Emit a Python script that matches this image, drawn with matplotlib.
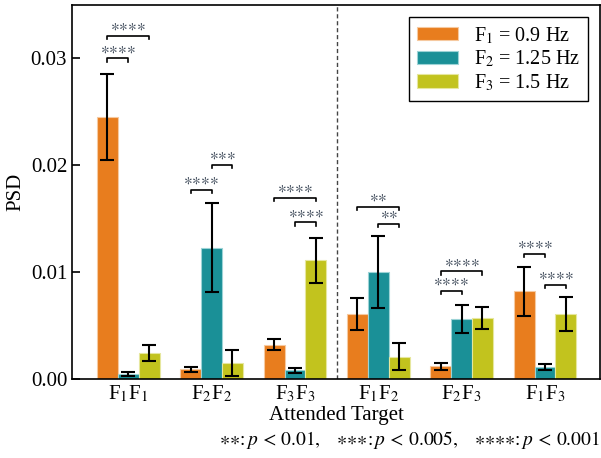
import matplotlib
matplotlib.use("Agg")
import matplotlib.pyplot as plt
import numpy as np

plt.rcParams['font.family'] = ['Liberation Serif', 'DejaVu Serif']
plt.rcParams['mathtext.fontset'] = 'stix'

categories = ["F$_1$F$_1$", "F$_2$F$_2$", "F$_3$F$_3$", "F$_1$F$_2$", "F$_2$F$_3$", "F$_1$F$_3$"]
series_labels = ["F$_1$ = 0.9 Hz", "F$_2$ = 1.25 Hz", "F$_3$ = 1.5 Hz"]
f1_mean = [0.0245, 0.0009, 0.0032, 0.0061, 0.0012, 0.0082]
f1_err = [0.0040, 0.00025, 0.0005, 0.0015, 0.00033, 0.0023]
f2_mean = [0.00047, 0.0123, 0.0008, 0.0100, 0.0056, 0.0011]
f2_err = [0.0002, 0.0042, 0.00024, 0.0034, 0.0013, 0.0003]
f3_mean = [0.0024, 0.0015, 0.0111, 0.0021, 0.0057, 0.0061]
f3_err = [0.00075, 0.00125, 0.0021, 0.00123, 0.0010, 0.0016]

# significance brackets: (category index, series a, series b, height, label)
sig_cat = [0, 0, 1, 1, 2, 2, 3, 3, 4, 4, 5, 5]
sig_a = [0, 0, 0, 1, 0, 1, 0, 1, 0, 0, 0, 1]
sig_b = [1, 2, 1, 2, 2, 2, 2, 2, 1, 2, 1, 2]
sig_y = [0.0300, 0.0321, 0.01768, 0.0200, 0.01693, 0.01465, 0.01612, 0.01453, 0.00825, 0.01006, 0.01169, 0.00881]
sig_lab = ["****", "****", "****", "***", "****", "****", "**", "**", "****", "****", "****", "****"]

colors = ["#E87D1E", "#1A9097", "#C2C31E"]
edges = ["#F6C9A0", "#9CD3D6", "#E6E79E"]

fig = plt.figure(figsize=(6.01, 4.58), dpi=100)
ax = fig.add_axes([0.1198, 0.1725, 0.8785, 0.8166])

x = np.arange(len(categories))
w = 0.25
means = [f1_mean, f2_mean, f3_mean]
errs = [f1_err, f2_err, f3_err]
for i in range(3):
    ax.bar(x + (i - 1) * w, means[i], w, yerr=errs[i], color=colors[i],
           edgecolor=edges[i], linewidth=0.8, label=series_labels[i],
           error_kw=dict(ecolor='black', elinewidth=1.5, capsize=5, capthick=1.5), zorder=2)

h = 0.0003
for c, a, b, yy, lab in zip(sig_cat, sig_a, sig_b, sig_y, sig_lab):
    x1 = c + (a - 1) * w
    x2 = c + (b - 1) * w
    ax.plot([x1, x1, x2, x2], [yy - h, yy, yy, yy - h], color='black', lw=1.2, zorder=3)
    stars = "$" + "".join("{\\ast}" for _ in lab) + "$"
    ax.text((x1 + x2) / 2, yy + 0.00012, stars, ha='center', va='bottom', fontsize=12,
            color='#3a4656', zorder=3)

ax.axvline(2.5, color='#444444', lw=1.0, ls=(0, (3, 2)), zorder=1)

ax.set_xlim(-0.675, 5.66)
ax.set_ylim(0, 0.035)
ax.set_yticks([0.0, 0.01, 0.02, 0.03])
ax.set_yticklabels(["0.00", "0.01", "0.02", "0.03"])
ax.set_xticks(x)
ax.set_xticklabels(categories)
ax.tick_params(direction='in', length=6, width=1.2, labelsize=15)
for s in ax.spines.values():
    s.set_linewidth(1.2)
ax.set_xlabel("Attended Target", fontsize=15, labelpad=1)
ax.set_ylabel("PSD", fontsize=15)

leg = ax.legend(loc='upper right', fontsize=14.5, fancybox=False, framealpha=1,
                edgecolor='black', handlelength=2.0, handleheight=0.65, borderaxespad=0.6,
                labelspacing=0.15)
leg.get_frame().set_linewidth(1.0)

fig.text(0.998, 0.039,
         r"${\ast}{\ast}$:$\,p\,<\,0.01,\quad{\ast}{\ast}{\ast}$:$\,p\,<\,0.005,\quad{\ast}{\ast}{\ast}{\ast}$:$\,p\,<\,0.001$",
         ha='right', va='center', fontsize=14)

fig.savefig("out.png", dpi=100)
